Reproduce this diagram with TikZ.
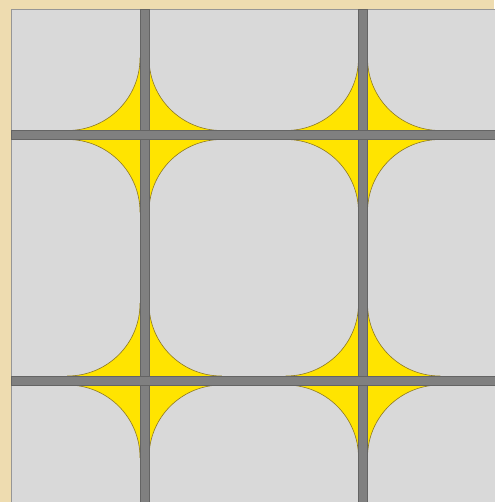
\documentclass[tikz,border=0pt]{standalone}
\begin{document}
\begin{tikzpicture}[x=1pt,y=1pt,
  star/.style={fill=starYellow,draw=starEdge,line width=0.6pt},
  bar/.style={fill=barGray,draw=barEdge,line width=0.5pt}]
\definecolor{starYellow}{RGB}{255,228,0}
\definecolor{starEdge}{RGB}{140,120,40}
\definecolor{barGray}{RGB}{128,128,128}
\definecolor{barEdge}{RGB}{100,100,100}
\definecolor{panel}{RGB}{217,217,217}
\definecolor{panelEdge}{RGB}{150,150,150}
\definecolor{beige}{RGB}{238,220,176}
% background
\fill[beige] (0,0) rectangle (494,502);
\useasboundingbox (0,0) rectangle (494,502);
\draw[fill=panel,draw=panelEdge,line width=0.8pt] (11,-2) rectangle (497,492.5);
% stars: yellow between rounded corners (radius 72.5) tangent to the bar edges
\foreach \cx/\cy in {144.5/367,363/367,144.5/121.5,363/121.5}{
  \begin{scope}[shift={(\cx,\cy)}]
  \draw[star] (4.5,77) arc[start angle=180,end angle=270,radius=72.5]
    -- (77,-4.5) arc[start angle=90,end angle=180,radius=72.5]
    -- (-4.5,-77) arc[start angle=0,end angle=90,radius=72.5]
    -- (-77,4.5) arc[start angle=270,end angle=360,radius=72.5]
    -- cycle;
  \end{scope}
}
% bars
\draw[bar] (140,-2) rectangle (149,492.5);
\draw[bar] (358.5,-2) rectangle (367.5,492.5);
\draw[bar] (11,371.5) rectangle (497,363);
\draw[bar] (11,126) rectangle (497,117);
\end{tikzpicture}
\end{document}
